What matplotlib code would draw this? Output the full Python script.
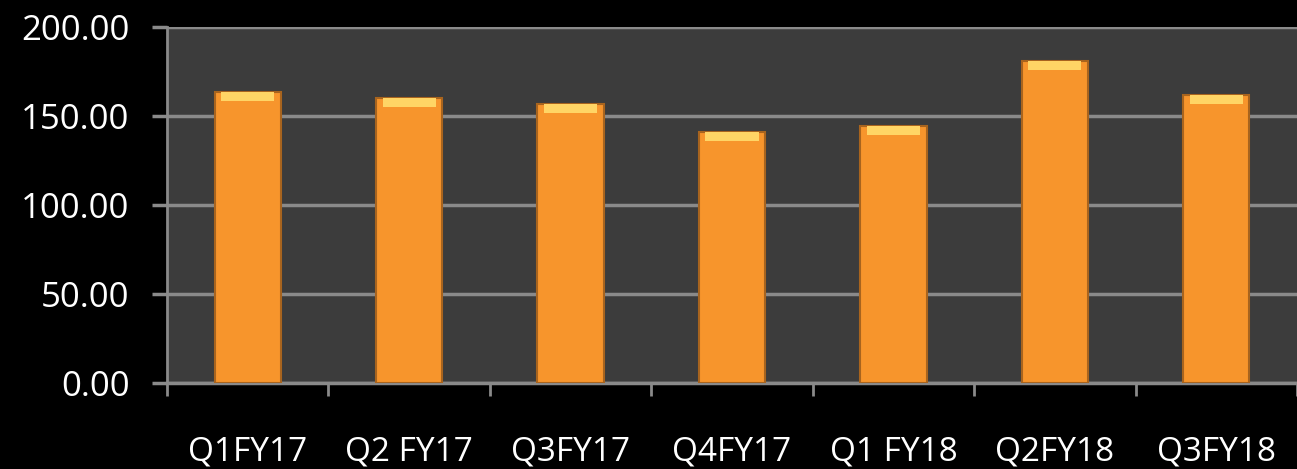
import numpy as np
import matplotlib
matplotlib.use("Agg")
import matplotlib.pyplot as plt
from matplotlib.ticker import FixedLocator

quarters = ["Q1FY17", "Q2 FY17", "Q3FY17", "Q4FY17", "Q1 FY18", "Q2FY18", "Q3FY18"]
values = [163.5, 160.0, 156.5, 141.0, 144.5, 181.0, 162.0]
yticks = [0, 50, 100, 150, 200]

plt.rcParams['font.family'] = ['Open Sans', 'DejaVu Sans']

W, H = 1297, 469
fig = plt.figure(figsize=(W / 100, H / 100), dpi=100, facecolor="black")
ax = fig.add_axes([167 / W, (H - 383) / H, (W - 167) / W, (383 - 27) / H])
ax.set_facecolor("#3c3c3c")

x = np.arange(len(quarters))
ax.bar(x, values, width=0.41, color="#F7952C", edgecolor="#A8641E", linewidth=1.5, zorder=3)
# brillo en la parte superior de cada barra
cap = 5
ax.bar(x, [cap] * len(values), bottom=np.array(values) - cap, width=0.33,
       color="#FFD565", linewidth=0, zorder=4)

ax.set_xlim(-0.5, len(quarters) - 0.5)
ax.set_ylim(0, 200)
ax.set_yticks(yticks)
ax.set_yticklabels([f"{v:.2f}" for v in yticks], color="white", fontsize=25)
ax.yaxis.grid(True, color="#8a8a8a", linewidth=2.5, zorder=1)

ax.set_xticks(x)
ax.set_xticklabels(quarters, color="white", fontsize=24)
ax.xaxis.set_minor_locator(FixedLocator(np.arange(-0.5, len(quarters), 1.0)))
ax.tick_params(axis="x", which="major", length=0, pad=38)
ax.tick_params(axis="x", which="minor", length=9, width=2, color="#8a8a8a")
ax.tick_params(axis="y", length=11, width=2.5, color="#8a8a8a", pad=16)

for s in ["top", "right"]:
    ax.spines[s].set_visible(False)
ax.spines["left"].set_color("#8a8a8a")
ax.spines["left"].set_linewidth(2)
ax.spines["bottom"].set_color("#8a8a8a")
ax.spines["bottom"].set_linewidth(2.5)

fig.savefig("out.png", dpi=100, facecolor="black")
